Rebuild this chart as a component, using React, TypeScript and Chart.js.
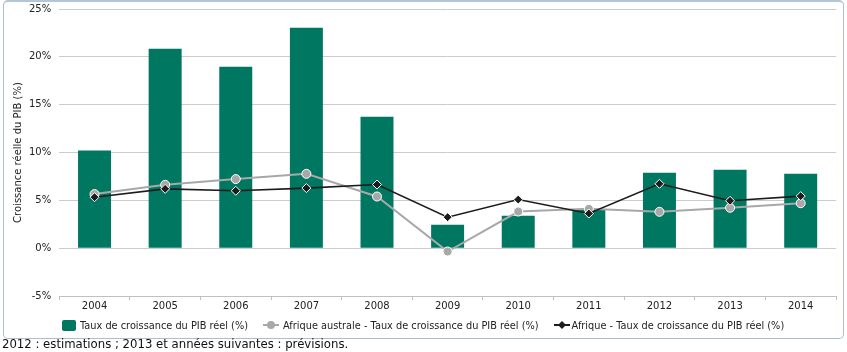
import React, { useEffect, useRef } from "react";
import { Chart, registerables } from "chart.js";

Chart.register(...registerables);

const years = ["2004", "2005", "2006", "2007", "2008", "2009", "2010", "2011", "2012", "2013", "2014"];
const pibReel = [10.2, 20.85, 18.96, 23.04, 13.73, 2.44, 3.38, 4.0, 7.88, 8.19, 7.77];
const afriqueAustrale = [5.65, 6.62, 7.22, 7.77, 5.4, -0.35, 3.83, 4.11, 3.8, 4.22, 4.7];
const afrique = [5.33, 6.2, 6.0, 6.28, 6.65, 3.24, 5.08, 3.62, 6.73, 4.95, 5.44];
const yMin = -5;
const yMax = 25;
const yStep = 5;

const labelBar = "Taux de croissance du PIB réel (%)";
const labelAustrale = "Afrique australe - Taux de croissance du PIB réel (%)";
const labelAfrique = "Afrique - Taux de croissance du PIB réel (%)";
const yTitle = "Croissance réelle du PIB (%)";
const caption = "2012 : estimations ; 2013 et années suivantes : prévisions.";

const GREEN = "#007761";
const GRAY = "#a8a8a8";
const BLACK = "#1c1c1c";
const FONT = "'DejaVu Sans', Verdana, sans-serif";

export default function App() {
  const ref = useRef<HTMLCanvasElement | null>(null);

  useEffect(() => {
    if (!ref.current) return;
    const chart = new Chart(ref.current, {
      type: "bar",
      data: {
        labels: years,
        datasets: [
          {
            type: "line",
            label: labelAfrique,
            data: afrique,
            borderColor: BLACK,
            backgroundColor: BLACK,
            borderWidth: 1.6,
            pointStyle: "rectRot",
            pointRadius: 4.5,
            pointBorderColor: "#ffffff",
            pointBorderWidth: 1,
            pointBackgroundColor: BLACK,
            order: 1,
          },
          {
            type: "line",
            label: labelAustrale,
            data: afriqueAustrale,
            borderColor: GRAY,
            backgroundColor: GRAY,
            borderWidth: 2,
            pointStyle: "circle",
            pointRadius: 4.5,
            pointBorderColor: "#ffffff",
            pointBorderWidth: 1,
            pointBackgroundColor: GRAY,
            order: 2,
          },
          {
            type: "bar",
            label: labelBar,
            data: pibReel,
            backgroundColor: GREEN,
            borderWidth: 0,
            categoryPercentage: 1,
            barPercentage: 0.467,
            order: 3,
          },
        ],
      },
      options: {
        responsive: false,
        animation: false,
        layout: { padding: { left: 1, right: 7, top: 0, bottom: 26 } },
        plugins: {
          legend: { display: false },
          tooltip: { enabled: false },
        },
        scales: {
          x: {
            offset: true,
            grid: {
              offset: true,
              drawOnChartArea: false,
              drawTicks: true,
              tickLength: 4,
              color: "#c0c0c0",
            },
            border: { color: "#c0c0c0", width: 1 },
            ticks: {
              padding: 0,
              color: "#222",
              font: { family: FONT, size: 10 },
              maxRotation: 0,
            },
          },
          y: {
            min: yMin,
            max: yMax,
            ticks: {
              stepSize: yStep,
              padding: 8,
              color: "#222",
              font: { family: FONT, size: 10 },
              callback: (v: any) => `${v}%`,
            },
            grid: { color: "#cccccc", drawTicks: false },
            border: { display: false },
            title: {
              display: true,
              text: yTitle,
              color: "#222",
              font: { family: FONT, size: 10 },
              padding: { top: 7, bottom: -3 },
            },
          },
        },
      },
    });
    return () => chart.destroy();
  }, []);

  const legendText: React.CSSProperties = {
    fontFamily: FONT,
    fontSize: 9.77,
    color: "#222",
    whiteSpace: "nowrap",
  };

  return (
    <div style={{ position: "absolute", left: 0, top: 0, width: 847, height: 352, background: "#fff" }}>
      <div
        style={{
          position: "absolute",
          left: 3,
          top: 0,
          width: 839,
          height: 336,
          border: "1px solid #aebdd2",
          borderTop: "2px solid #b6c4d8",
          borderRadius: 5,
          overflow: "hidden",
        }}
      >
        <canvas
          ref={ref}
          width={839}
          height={343}
          style={{ position: "absolute", left: 0, top: -7, display: "block", width: 839, height: 343 }}
        />
        <div
          style={{
            position: "absolute",
            left: 58,
            top: 316,
            display: "flex",
            alignItems: "center",
            height: 14,
          }}
        >
          <span
            style={{
              display: "inline-block",
              width: 14,
              height: 11,
              background: GREEN,
              borderRadius: 2,
              marginRight: 4,
            }}
          />
          <span style={legendText}>{labelBar}</span>
          <svg width={16} height={12} style={{ marginLeft: 15, marginRight: 4 }}>
            <line x1={0} y1={6} x2={16} y2={6} stroke={GRAY} strokeWidth={2} />
            <circle cx={8} cy={6} r={4} fill={GRAY} />
          </svg>
          <span style={legendText}>{labelAustrale}</span>
          <svg width={16} height={12} style={{ marginLeft: 15, marginRight: 2 }}>
            <line x1={0} y1={6} x2={16} y2={6} stroke={BLACK} strokeWidth={2} />
            <polygon points="8,2 12,6 8,10 4,6" fill={BLACK} />
          </svg>
          <span style={legendText}>{labelAfrique}</span>
        </div>
      </div>
      <div
        style={{
          position: "absolute",
          left: 2,
          top: 337,
          fontFamily: FONT,
          fontSize: 11.7,
          color: "#111",
          whiteSpace: "nowrap",
          lineHeight: "15px",
        }}
      >
        {caption}
      </div>
    </div>
  );
}
